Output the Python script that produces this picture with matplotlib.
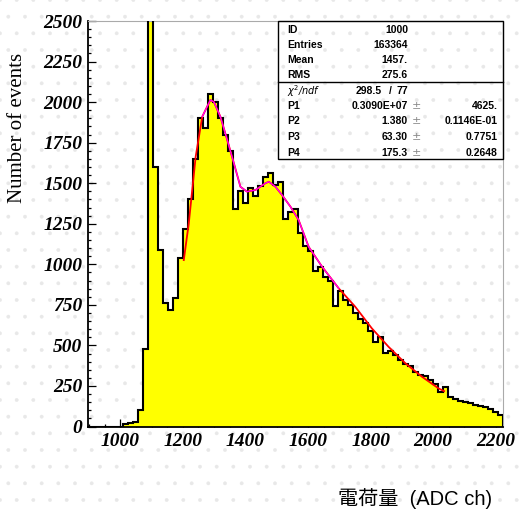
import matplotlib
matplotlib.use("Agg")
import matplotlib.pyplot as plt
import numpy as np
from matplotlib.patches import Rectangle
from matplotlib.lines import Line2D
from matplotlib.ticker import MultipleLocator

# histogram: 83 bins of 16 ADC channels starting at 896
bin_start = 896
bin_width = 16
counts = [0, 0, 0, 0, 0, 0, 0, 15, 20, 25,
          100, 480, 3200, 1600, 1090, 760, 720, 790, 1040, 1220,
          1400, 1650, 1900, 1840, 2050, 2000, 1900, 1800, 1700, 1340,
          1450, 1380, 1470, 1420, 1485, 1540, 1560, 1490, 1510, 1280,
          1320, 1340, 1190, 1110, 1080, 960, 985, 920, 900, 740,
          835, 780, 750, 700, 665, 640, 590, 520, 550, 455,
          465, 440, 410, 385, 375, 335, 320, 310, 287, 265,
          215, 245, 184, 172, 157, 150, 143, 133, 125, 118,
          108, 91, 72]

# fitted curve
fit_x = [1203, 1219, 1241, 1262, 1288, 1299, 1320, 1342, 1363, 1384, 1405, 1432, 1464, 1475,
         1496, 1517, 1544, 1570, 1602, 1645, 1698, 1751, 1804, 1857, 1911, 1964, 2017, 2035]
fit_y = [1026, 1253, 1663, 1910, 2013, 2002, 1910, 1766, 1624, 1478, 1448, 1458, 1500, 1509,
         1478, 1427, 1355, 1273, 1108, 985, 852, 738, 605, 492, 390, 307, 235, 218]

stat_labels = ["ID", "Entries", "Mean", "RMS"]
stat_values = ["1000", "163364", "1457.", "275.6"]
par_labels = ["P1", "P2", "P3", "P4"]
par_values = ["0.3090E+07", "1.380", "63.30", "175.3"]
par_errors = ["4625.", "0.1146E-01", "0.7751", "0.2648"]
chi2_text = "298.5", "77"

plt.rcParams["hatch.linewidth"] = 0.3

W, H = 521, 511
fig = plt.figure(figsize=(W / 100, H / 100), dpi=100)
fig.patch.set_facecolor("white")
fig.patch.set_edgecolor("#e8e8e8")
fig.patch.set_linewidth(0)
fig.patch.set_hatch(".")

ax = fig.add_axes([87.7 / W, 1 - 426.5 / H, (503.3 - 87.7) / W, (426.5 - 21) / H])
ax.set_facecolor("none")

edges = bin_start + bin_width * np.arange(len(counts) + 1)
ax.stairs(counts, edges, fill=True, color="#ffff00", zorder=2)
ax.stairs(counts, edges, color="black", linewidth=1.5, zorder=3)
ax.plot(fit_x, fit_y, color="red", linewidth=1.3, zorder=4)
ax.plot(fit_x[3:21], fit_y[3:21], color="#ff00ff", linewidth=0.9, zorder=5)

ax.set_xlim(edges[0], edges[-1])
ax.set_ylim(0, 2500)
ax.xaxis.set_major_locator(MultipleLocator(200))
ax.xaxis.set_minor_locator(MultipleLocator(50))
ax.yaxis.set_major_locator(MultipleLocator(250))
ax.yaxis.set_minor_locator(MultipleLocator(50))
ax.tick_params(which="both", direction="in", top=False, right=False, width=0.9)
ax.tick_params(which="major", length=6)
ax.tick_params(which="minor", length=2.5)
ax.tick_params(axis="y", pad=4)
ax.tick_params(axis="x", pad=5)
for lab in ax.get_xticklabels() + ax.get_yticklabels():
    lab.set_family("Liberation Serif")
    lab.set_style("italic")
    lab.set_weight("bold")
    lab.set_size(14)
for side in ["left", "bottom"]:
    ax.spines[side].set_linewidth(1.3)
for side in ["top", "right"]:
    ax.spines[side].set_color("#aaaaaa")
    ax.spines[side].set_linewidth(0.8)

fig.text(18 / W, 1 - 128 / H, "Number of events", rotation=90, ha="center", va="center",
         family="Liberation Serif", fontsize=15)
fig.text(415 / W, 1 - 499 / H, "電荷量  (ADC ch)", ha="center", va="center",
         family=["Liberation Sans", "Noto Sans CJK JP"], fontsize=14.5)

# statistics box
def fx(x):
    return x / W


def fy(y):
    return 1 - y / H


fig.add_artist(Rectangle((fx(278), fy(159)), fx(503) - fx(278), fy(21) - fy(159),
                         transform=fig.transFigure, fill=False, edgecolor="black", linewidth=1.0))
fig.add_artist(Line2D([fx(278), fx(503)], [fy(82), fy(82)], transform=fig.transFigure,
                      color="black", linewidth=1.0))
small = dict(family="Liberation Sans", weight="bold", fontsize=7.5, va="center")
for i, (lab, val) in enumerate(zip(stat_labels, stat_values)):
    y = fy(30 + 15 * i)
    fig.text(fx(287), y, lab, ha="left", **small)
    fig.text(fx(408), y, val, ha="right", **small)
fig.text(fx(287), fy(91), r"$\chi^2$/ndf", ha="left", va="center", fontsize=7,
         family="DejaVu Sans", style="italic")
fig.text(fx(382), fy(91), chi2_text[0], ha="right", **small)
fig.text(fx(390), fy(91), "/", ha="center", **small)
fig.text(fx(408), fy(91), chi2_text[1], ha="right", **small)
for i, (lab, val, err) in enumerate(zip(par_labels, par_values, par_errors)):
    y = fy(106 + 15.5 * i)
    fig.text(fx(287), y, lab, ha="left", **small)
    fig.text(fx(408), y, val, ha="right", **small)
    fig.text(fx(416), y, "±", ha="center", va="center", fontsize=8, color="#888888",
             family="DejaVu Sans")
    fig.text(fx(498), y, err, ha="right", **small)

fig.savefig("out.png", dpi=100)
